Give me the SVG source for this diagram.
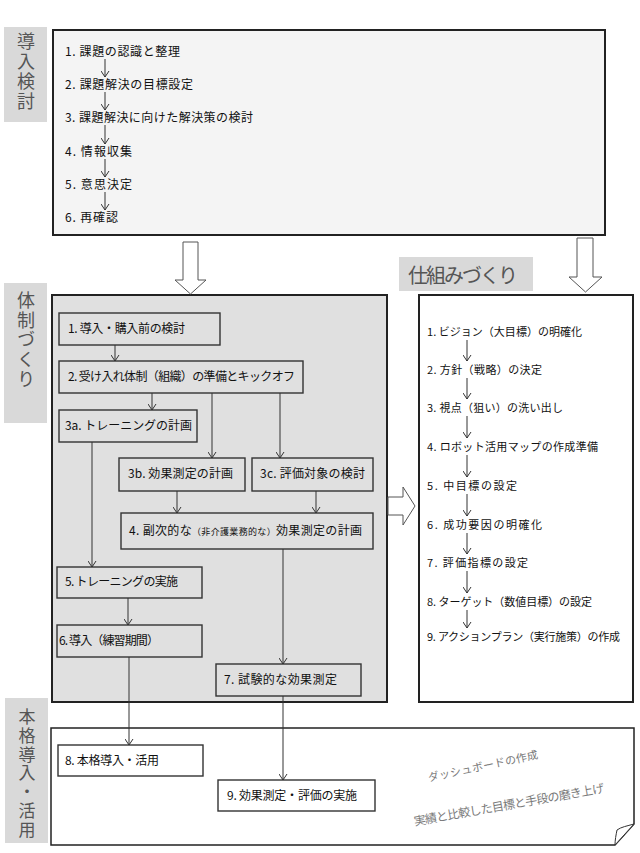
<svg xmlns="http://www.w3.org/2000/svg" width="640" height="853" viewBox="0 0 640 853">
<style>
.lbl{fill:#d9d9d9}
.lt{font-family:"Noto Sans CJK JP","Noto Sans CJK SC",sans-serif;font-size:18px;fill:#555}
.vt{writing-mode:vertical-rl;glyph-orientation-vertical:0}
.t{font-family:"Noto Sans CJK JP","Noto Sans CJK SC",sans-serif;font-size:12px;fill:#111}
.r{font-size:11px}
.box{fill:#e0e0e0;stroke:#333;stroke-width:1.4}
.wbox{fill:#fff;stroke:#333;stroke-width:1.4}
.c{stroke:#333;stroke-width:1;fill:none;marker-end:url(#ah)}
.ha{fill:#fff;stroke:#555;stroke-width:1}
.g{font-family:"Noto Sans CJK JP",sans-serif;fill:#7a7a7a}
</style>
<defs>
<marker id="ah" viewBox="0 0 7 9" refX="6.5" refY="4.5" markerWidth="7" markerHeight="9" markerUnits="userSpaceOnUse" orient="auto">
<path d="M0.5,0.5 L6.5,4.5 L0.5,8.5" fill="none" stroke="#333" stroke-width="1"/>
</marker>
</defs>

<!-- section labels -->
<g id="label-donyu">
<rect class="lbl" x="4" y="27" width="43" height="95"/>
<text class="lt vt" x="26" y="32" textLength="78">導入検討</text>
</g>
<g id="label-taisei">
<rect class="lbl" x="4" y="283" width="43" height="140"/>
<text class="lt vt" x="26" y="291" textLength="97">体制づくり</text>
</g>
<g id="label-honkaku">
<rect class="lbl" x="5" y="698" width="43" height="145"/>
<text class="lt vt" style="font-size:17px" x="27" y="708" textLength="130">本格導入・活用</text>
</g>
<g id="label-shikumi">
<rect class="lbl" x="399" y="257" width="134" height="34"/>
<text class="lt" style="font-size:20px" x="408" y="283" textLength="110">仕組みづくり</text>
</g>

<!-- top box -->
<g id="donyu-kento">
<rect x="53" y="30" width="552" height="205" fill="#f4f4f4" stroke="#222" stroke-width="2"/>
<text class="t" x="65" y="56" textLength="115">1. 課題の認識と整理</text>
<text class="t" x="65" y="89" textLength="128">2. 課題解決の目標設定</text>
<text class="t" x="65" y="122" textLength="188">3. 課題解決に向けた解決策の検討</text>
<text class="t" x="65" y="156" textLength="67">4. 情報収集</text>
<text class="t" x="65" y="189" textLength="67">5. 意思決定</text>
<text class="t" x="65" y="222" textLength="53">6. 再確認</text>
</g>

<!-- right box -->
<g id="shikumi">
<rect x="419" y="295" width="214" height="407" fill="#fff" stroke="#222" stroke-width="2"/>
<text class="t r" x="427" y="336" textLength="155">1. ビジョン（大目標）の明確化</text>
<text class="t r" x="427" y="374" textLength="115">2. 方針（戦略）の決定</text>
<text class="t r" x="427" y="412" textLength="136">3. 視点（狙い）の洗い出し</text>
<text class="t r" x="427" y="451" textLength="171">4. ロボット活用マップの作成準備</text>
<text class="t r" x="427" y="490" textLength="90">5. 中目標の設定</text>
<text class="t r" x="427" y="529" textLength="115">6. 成功要因の明確化</text>
<text class="t r" x="427" y="567" textLength="101">7. 評価指標の設定</text>
<text class="t r" x="427" y="606" textLength="165">8. ターゲット（数値目標）の設定</text>
<text class="t r" x="427" y="641" textLength="193">9. アクションプラン（実行施策）の作成</text>
</g>

<!-- taisei container -->
<g id="taisei">
<rect x="52" y="295" width="335" height="407" fill="#e0e0e0" stroke="#222" stroke-width="2"/>
</g>
<g id="n1"><rect class="box" x="59" y="313" width="161" height="32"/><text class="t" x="68" y="333" textLength="117">1. 導入・購入前の検討</text></g>
<g id="n2"><rect class="box" x="59" y="361" width="244" height="32"/><text class="t" x="68" y="381" textLength="227">2. 受け入れ体制（組織）の準備とキックオフ</text></g>
<g id="n3a"><rect class="box" x="59" y="410" width="138" height="32"/><text class="t" x="65" y="430" textLength="127">3a. トレーニングの計画</text></g>
<g id="n3b"><rect class="box" x="119" y="458" width="126" height="33"/><text class="t" x="128" y="478" textLength="105">3b. 効果測定の計画</text></g>
<g id="n3c"><rect class="box" x="252" y="458" width="121" height="33"/><text class="t" x="260" y="478" textLength="105">3c. 評価対象の検討</text></g>
<g id="n4"><rect class="box" x="121" y="513" width="252" height="36"/><text class="t" x="129" y="535" textLength="233">4. 副次的な<tspan style="font-size:9px">（非介護業務的な）</tspan>効果測定の計画</text></g>
<g id="n5"><rect class="box" x="57" y="567" width="145" height="31"/><text class="t" x="65" y="586" textLength="113">5. トレーニングの実施</text></g>
<g id="n6"><rect class="box" x="57" y="625" width="145" height="32"/><text class="t" x="59" y="645" textLength="100">6. 導入（練習期間）</text></g>
<g id="n7"><rect class="box" x="216" y="664" width="145" height="32"/><text class="t" x="224" y="684" textLength="113">7. 試験的な効果測定</text></g>

<!-- bottom -->
<g id="honkaku">
<path d="M51,728 H634 V824 L615,845 H51 Z" fill="#fff" stroke="#222" stroke-width="1.5"/>
<path d="M634,824 C627,826 621,827 617,830 C616,835 615,840 615,845 Z" fill="#fff" stroke="#333" stroke-width="1"/>
<text class="g" x="483" y="770" font-size="11" text-anchor="middle" textLength="112" transform="rotate(-12 483 766)">ダッシュボードの作成</text>
<text class="g" x="509" y="809" font-size="12" text-anchor="middle" textLength="193" transform="rotate(-10 509 805)">実績と比較した目標と手段の磨き上げ</text>
</g>
<g id="n8"><rect class="wbox" x="58" y="745" width="145" height="31"/><text class="t" x="65" y="765" textLength="94">8. 本格導入・活用</text></g>
<g id="n9"><rect class="wbox" x="218" y="780" width="157" height="31"/><text class="t" x="227" y="800" textLength="130">9. 効果測定・評価の実施</text></g>

<!-- connectors -->
<g id="connectors">
<line class="c" x1="105" y1="59" x2="105" y2="77"/>
<line class="c" x1="105" y1="92" x2="105" y2="110"/>
<line class="c" x1="105" y1="125" x2="105" y2="144"/>
<line class="c" x1="105" y1="159" x2="105" y2="177"/>
<line class="c" x1="105" y1="192" x2="105" y2="210"/>

<line class="c" x1="467" y1="340" x2="467" y2="361"/>
<line class="c" x1="467" y1="378" x2="467" y2="399"/>
<line class="c" x1="467" y1="416" x2="467" y2="438"/>
<line class="c" x1="467" y1="455" x2="467" y2="477"/>
<line class="c" x1="467" y1="494" x2="467" y2="516"/>
<line class="c" x1="467" y1="533" x2="467" y2="554"/>
<line class="c" x1="467" y1="571" x2="467" y2="593"/>
<line class="c" x1="467" y1="610" x2="467" y2="628"/>

<line class="c" x1="115" y1="345" x2="115" y2="361"/>
<line class="c" x1="152" y1="393" x2="152" y2="410"/>
<line class="c" x1="212" y1="393" x2="212" y2="458"/>
<line class="c" x1="280" y1="393" x2="280" y2="458"/>
<line class="c" x1="92" y1="442" x2="92" y2="567"/>
<line class="c" x1="177" y1="491" x2="177" y2="513"/>
<line class="c" x1="316" y1="491" x2="316" y2="513"/>
<line class="c" x1="283" y1="549" x2="283" y2="664"/>
<line class="c" x1="128" y1="598" x2="128" y2="625"/>
<line class="c" x1="129" y1="657" x2="129" y2="745"/>
<line class="c" x1="283" y1="696" x2="283" y2="780"/>

<polygon class="ha" points="183,242 198,242 198,280 206,280 190.5,294 175,280 183,280"/>
<polygon class="ha" points="577,238 593,238 593,277 602,277 585.5,292 569,277 577,277"/>
<polygon class="ha" points="388,497 403,497 403,487 415,506 403,525 403,515 388,515"/>
</g>
</svg>
